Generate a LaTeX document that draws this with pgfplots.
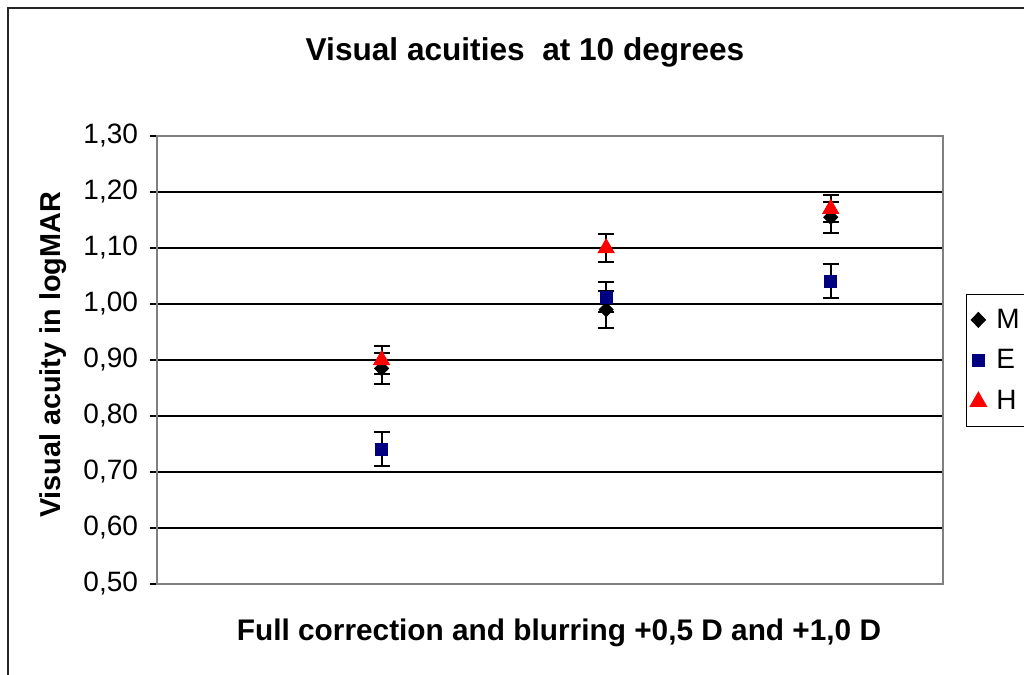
\documentclass[border=0pt]{standalone}
\usepackage{fontspec}
\setmainfont{Liberation Sans}
\usepackage{pgfplots}
\pgfplotsset{compat=1.18}
\definecolor{navyE}{RGB}{0,0,128}
\begin{document}
\begin{tikzpicture}
\clip (0,0) rectangle (512pt,-337.5pt);
\draw[line width=1pt, black!85] (4pt,-4pt) rectangle (600pt,-400pt);
\node[font=\bfseries\fontsize{15.8}{18}\selectfont] at (262.5pt,-26pt) {Visual acuities\ \ at 10 degrees};
\node[font=\bfseries\fontsize{14.9}{17}\selectfont] at (279.5pt,-316.5pt) {Full correction and blurring +0,5 D and +1,0 D};
\node[font=\bfseries\fontsize{14.4}{16}\selectfont, rotate=90] at (26.5pt,-177.5pt) {Visual acuity in logMAR};
\begin{axis}[
  at={(78.5pt,-292pt)}, anchor=south west, scale only axis,
  width=393pt, height=224pt,
  xmin=0, xmax=3.5, ymin=0.5, ymax=1.3,
  xtick=\empty,
  ytick={0.5,0.6,0.7,0.8,0.9,1.0,1.1,1.2,1.3},
  yticklabel={\pgfmathprintnumber[fixed, fixed zerofill, precision=2, use comma]{\tick}},
  /pgf/number format/assume math mode=true,
  ticklabel style={font=\fontsize{14}{16}\selectfont},
  yticklabel style={xshift=-2.5pt},
  ytick pos=left, tick align=outside, major tick length=3.5pt,
  tick style={black, line width=0.6pt},
  ymajorgrids, grid style={black, line width=0.6pt},
  axis line style={gray, line width=0.8pt},
  clip=false,
  legend style={at={(rel axis cs:1.029,0.647)}, anchor=north west, draw=black, line width=0.6pt, fill=white,
    font=\fontsize{14}{16}\selectfont, row sep=5.3pt, inner ysep=5pt, inner xsep=2pt,
    nodes={text width=40pt},
    /tikz/every odd column/.append style={column sep=3pt}},
  legend cell align=left,
  legend image code/.code={\draw[#1] plot coordinates {(0.54cm,0cm)};},
  error bars/error bar style={black, line width=1pt},
  error bars/error mark options={rotate=90, black, mark size=4pt, line width=1pt},
]
\addplot[only marks, mark=diamond*, mark size=3.6pt, mark options={xscale=1.3}, color=black,
  error bars/.cd, y dir=both, y explicit]
  table[x=x, y=y, y error=e] {
  x y e
  1 0.885 0.027
  2 0.990 0.033
  3 1.155 0.028
  };
\addlegendentry{M}
\addplot[only marks, mark=square*, mark size=3pt, color=navyE,
  error bars/.cd, y dir=both, y explicit]
  table[x=x, y=y, y error=e] {
  x y e
  1 0.741 0.030
  2 1.012 0.027
  3 1.041 0.030
  };
\addlegendentry{E}
\addplot[only marks, mark=triangle*, mark size=4.6pt, color=red,
  error bars/.cd, y dir=both, y explicit]
  table[x=x, y=y, y error=e] {
  x y e
  1 0.900 0.025
  2 1.100 0.025
  3 1.170 0.024
  };
\addlegendentry{H}
\end{axis}
\end{tikzpicture}
\end{document}
